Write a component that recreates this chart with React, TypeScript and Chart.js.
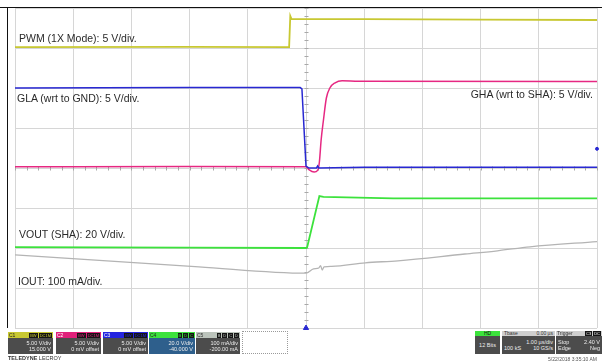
import React, { useEffect, useRef } from "react";
import { Chart, registerables } from "chart.js";
Chart.register(...registerables);

// time in µs (1 µs/div, trigger at 0), amplitude in screen divisions (0 = centre)
const pwmTrace: [number, number][] = [
  [-5, 3.02], [-2, 3.03], [-0.29, 3.02], [-0.27, 3.8], [-0.25, 3.73], [1, 3.72], [3, 3.71], [5, 3.7],
];
const glaTrace: [number, number][] = [
  [-5, 2.0], [-2, 2.01], [-0.1, 2.01], [-0.07, 1.98], [0, 0.05], [0.05, 0.0], [0.18, 0.0], [0.2, 0.05], [0.22, 0.0], [1, 0.02], [5, 0.02],
];
const ghaTrace: [number, number][] = [
  [-5, 0.03], [-2, 0.04], [0, 0.03], [0.05, -0.04], [0.14, -0.1], [0.2, -0.06], [0.23, 0.15], [0.26, 0.7],
  [0.3, 1.2], [0.35, 1.75], [0.41, 2.0], [0.5, 2.13], [0.62, 2.18], [0.9, 2.17], [5, 2.16],
];
const voutTrace: [number, number][] = [
  [-5, -1.98], [-2, -1.99], [0, -2.0], [0.02, -1.98], [0.23, -0.7], [0.3, -0.72], [1.5, -0.76], [5, -0.76],
];
const ioutTrace: [number, number][] = [
  [-5, -2.17], [-1.84, -2.47], [0, -2.63], [0.13, -2.52], [0.22, -2.5], [0.25, -2.44], [0.28, -2.55],
  [0.31, -2.47], [0.44, -2.46], [1.02, -2.37], [1.58, -2.32], [2.73, -2.15], [3.29, -2.07], [3.85, -1.97], [5, -1.84],
];
const channelOffsets: [number, string][] = [
  [3.03, "#c8c832"], [2.0, "#2828d2"], [0.05, "#b04cc0"], [-1.95, "#3ce23c"],
];
const triggerLevel = 0.48;
const timeRange = [-5, 5];
const divRange = [-4, 4];

const labels = {
  pwm: "PWM (1X Mode): 5 V/div.",
  gla: "GLA (wrt to GND): 5 V/div.",
  gha: "GHA (wrt to SHA): 5 V/div.",
  vout: "VOUT (SHA): 20 V/div.",
  iout: "IOUT: 100 mA/div.",
};

const toXY = (arr: [number, number][]) => arr.map(([x, y]) => ({ x, y }));

const centerTicks = {
  id: "centerTicks",
  beforeDatasetsDraw(chart: any) {
    const { ctx, scales } = chart;
    const xs = scales.x, ys = scales.y;
    const x0 = Math.round(xs.getPixelForValue(0)) + 0.5;
    const y0 = Math.round(ys.getPixelForValue(0)) + 0.5;
    ctx.save();
    ctx.strokeStyle = "#a8a8a8";
    ctx.lineWidth = 1;
    ctx.beginPath();
    for (let v = divRange[0]; v <= divRange[1] + 0.001; v += 0.2) {
      const py = Math.round(ys.getPixelForValue(v)) + 0.5;
      ctx.moveTo(x0 - 2, py);
      ctx.lineTo(x0 + 2, py);
    }
    for (let v = timeRange[0]; v <= timeRange[1] + 0.001; v += 0.2) {
      const px = Math.round(xs.getPixelForValue(v)) + 0.5;
      ctx.moveTo(px, y0 - 2);
      ctx.lineTo(px, y0 + 2);
    }
    ctx.stroke();
    ctx.restore();
  },
};

const FONT = '"Liberation Sans", Arial, sans-serif';

function Label({ text, left, right, top }: { text: string; left?: number; right?: number; top: number }) {
  return (
    <div
      style={{
        position: "absolute", top, left, right, fontFamily: FONT, fontSize: 10.5,
        lineHeight: "12px", color: "#2a2a2a", whiteSpace: "nowrap",
      }}
    >
      {text}
    </div>
  );
}

function Tag({ t, fg }: { t: string; fg: string }) {
  return (
    <span style={{ background: "#151515", color: fg, fontSize: 4, lineHeight: "5px", padding: "0 1px", marginLeft: 1, height: 5, display: "inline-block" }}>
      {t}
    </span>
  );
}

function Box(props: {
  left: number; top: number; width: number; headH: number; bodyH: number;
  headBg: string; head: React.ReactNode; bodyBg: string; rows: [string, string][]; center?: boolean;
}) {
  const { left, top, width, headH, bodyH, headBg, head, bodyBg, rows, center } = props;
  return (
    <div style={{ position: "absolute", left, top, width, fontFamily: FONT, overflow: "hidden" }}>
      <div style={{ height: headH, background: headBg, display: "flex", alignItems: "center", fontSize: 5, lineHeight: `${headH}px`, overflow: "hidden" }}>
        {head}
      </div>
      <div style={{ height: bodyH, background: bodyBg, color: "#ececec", fontSize: 5.5, lineHeight: "6.5px", padding: "1px 2px", boxSizing: "border-box", display: "flex", flexDirection: "column", justifyContent: "center" }}>
        {rows.map(([l, r], i) => (
          <div key={i} style={{ display: "flex", justifyContent: center ? "center" : "space-between", whiteSpace: "nowrap" }}>
            <span>{l}</span>
            <span>{r}</span>
          </div>
        ))}
      </div>
    </div>
  );
}

function ChHead({ name, fg, tags, tagFg }: { name: string; fg: string; tags: string[]; tagFg: string }) {
  return (
    <div style={{ display: "flex", width: "100%", alignItems: "center", justifyContent: "space-between", padding: "0 1px", boxSizing: "border-box" }}>
      <span style={{ color: fg }}>{name}</span>
      <span style={{ display: "flex" }}>{tags.map((t, i) => <Tag key={i} t={t} fg={tagFg} />)}</span>
    </div>
  );
}

export default function App() {
  const ref = useRef<HTMLCanvasElement>(null);
  useEffect(() => {
    if (!ref.current) return;
    const line = (data: [number, number][], color: string, w: number, mono = false) => ({
      type: "line" as const,
      data: toXY(data),
      borderColor: color,
      borderWidth: w,
      pointRadius: 0,
      fill: false,
      cubicInterpolationMode: mono ? ("monotone" as const) : ("default" as const),
      tension: 0,
    });
    const chart = new Chart(ref.current, {
      type: "line",
      data: {
        datasets: [
          line(glaTrace, "#2828d2", 1.5),
          line(ghaTrace, "#e62882", 1.5, true),
          line(pwmTrace, "#c8c832", 1.8),
          line(voutTrace, "#3ce23c", 1.8),
          line(ioutTrace, "#b4b4b4", 1.3, true),
          {
            type: "scatter" as const,
            data: channelOffsets.map(([y]) => ({ x: timeRange[0] - 0.09, y })),
            pointBackgroundColor: "rgba(0,0,0,0)",
            pointBorderColor: channelOffsets.map(([, c]) => c),
            pointBorderWidth: 1,
            pointStyle: "rect",
            pointRadius: 2.5,
            clip: false,
          } as any,
          {
            type: "scatter" as const,
            data: [{ x: 0, y: divRange[0] }],
            pointBackgroundColor: "#2828d2",
            pointBorderColor: "#2828d2",
            pointStyle: "triangle",
            pointRadius: 3,
            clip: false,
          } as any,
          {
            type: "scatter" as const,
            data: [{ x: timeRange[1], y: triggerLevel }],
            pointBackgroundColor: "#2828d2",
            pointBorderColor: "#2828d2",
            pointRadius: 1.5,
            clip: false,
          } as any,
        ],
      },
      options: {
        animation: false,
        responsive: false,
        maintainAspectRatio: false,
        parsing: true,
        layout: { padding: { left: 15, right: 2, top: 8, bottom: 34 } },
        plugins: { legend: { display: false }, tooltip: { enabled: false } },
        scales: {
          x: {
            type: "linear", min: timeRange[0], max: timeRange[1],
            ticks: { display: false, stepSize: 1 },
            grid: { color: "#d6d6d6", drawTicks: false, lineWidth: 1 },
            border: { display: false },
          },
          y: {
            type: "linear", min: divRange[0], max: divRange[1],
            ticks: { display: false, stepSize: 1 },
            grid: { color: "#d6d6d6", drawTicks: false, lineWidth: 1 },
            border: { display: false },
          },
        },
      },
      plugins: [centerTicks],
    });
    return () => chart.destroy();
  }, []);

  return (
    <div style={{ position: "fixed", left: 0, top: 0, width: 602, height: 362, background: "#fff", overflow: "hidden" }}>
      <canvas ref={ref} width={602} height={362} style={{ position: "absolute", left: 0, top: 0, width: 602, height: 362 }} />
      <div style={{ position: "absolute", left: 0, top: 7, width: 602, height: 1, background: "#111" }} />
      <div style={{ position: "absolute", left: 7, top: 7, width: 1, height: 321, background: "#111" }} />
      <Label text={labels.pwm} left={19} top={32} />
      <Label text={labels.gla} left={17} top={91.5} />
      <Label text={labels.gha} right={9} top={88} />
      <Label text={labels.vout} left={19} top={228} />
      <Label text={labels.iout} left={18} top={274.5} />

      <Box left={8} top={332} width={45} headH={6} bodyH={16} headBg="#c8c832" bodyBg="#4c4c4c"
        head={<ChHead name="C1" fg="#222" tags={["BW", "DC1M"]} tagFg="#c8c832" />}
        rows={[["", "5.00 V/div"], ["", "15.000 V"]]} />
      <Box left={56} top={332} width={45} headH={6} bodyH={16} headBg="#e0207a" bodyBg="#4c4c4c"
        head={<ChHead name="C2" fg="#fff" tags={["BW", "DC1M"]} tagFg="#e0207a" />}
        rows={[["", "5.00 V/div"], ["", "0 mV offset"]]} />
      <Box left={103} top={332} width={45} headH={6} bodyH={16} headBg="#2424e0" bodyBg="#4c4c4c"
        head={<ChHead name="C3" fg="#fff" tags={["BW", "DC1M"]} tagFg="#2424e0" />}
        rows={[["", "5.00 V/div"], ["", "0 mV offset"]]} />
      <Box left={149} top={332} width={46} headH={6} bodyH={16} headBg="#3ce23c" bodyBg="#2e5f8c"
        head={<ChHead name="C4" fg="#222" tags={["B", "D", "C"]} tagFg="#3ce23c" />}
        rows={[["", "20.0 V/div"], ["", "-40.000 V"]]} />
      <Box left={196} top={332} width={44} headH={6} bodyH={16} headBg="#bcc4bc" bodyBg="#4c4c4c"
        head={<ChHead name="C5" fg="#333" tags={["B", "D", "C", "D"]} tagFg="#bcc4bc" />}
        rows={[["", "100 mA/div"], ["", "-200.00 mA"]]} />
      <div style={{ position: "absolute", left: 242, top: 331, width: 46, height: 23, border: "1px dotted #9a9a9a", boxSizing: "border-box" }} />

      <Box left={475} top={331} width={25} headH={5} bodyH={18} headBg="#3ce23c" bodyBg="#4c4c4c" center
        head={<div style={{ width: "100%", textAlign: "center", color: "#111" }}>HD</div>}
        rows={[["12 Bits", ""]]} />
      <Box left={502} top={331} width={53} headH={5} bodyH={18} headBg="#cfcfcf" bodyBg="#4c4c4c"
        head={<div style={{ display: "flex", width: "100%", justifyContent: "space-between", padding: "0 2px", color: "#333" }}><span>Tbase</span><span>0.00 µs</span></div>}
        rows={[["", "1.00 µs/div"], ["100 kS", "10 GS/s"]]} />
      <Box left={556} top={331} width={46} headH={5} bodyH={18} headBg="#cfcfcf" bodyBg="#4c4c4c"
        head={<div style={{ display: "flex", width: "100%", justifyContent: "space-between", padding: "0 1px", color: "#333" }}><span>Trigger</span><span style={{ display: "flex" }}><Tag t="C3" fg="#fff" /><Tag t="DC" fg="#fff" /></span></div>}
        rows={[["Stop", "2.40 V"], ["Edge", "Neg"]]} />

      <div style={{ position: "absolute", left: 8, top: 355, fontFamily: FONT, fontSize: 5.5, lineHeight: "7px", color: "#333", whiteSpace: "nowrap" }}>
        <b>TELEDYNE</b> LECROY
      </div>
      <div style={{ position: "absolute", right: 5, top: 356, fontFamily: FONT, fontSize: 5, lineHeight: "6px", color: "#555", whiteSpace: "nowrap" }}>
        5/22/2018 3:35:10 AM
      </div>
    </div>
  );
}
